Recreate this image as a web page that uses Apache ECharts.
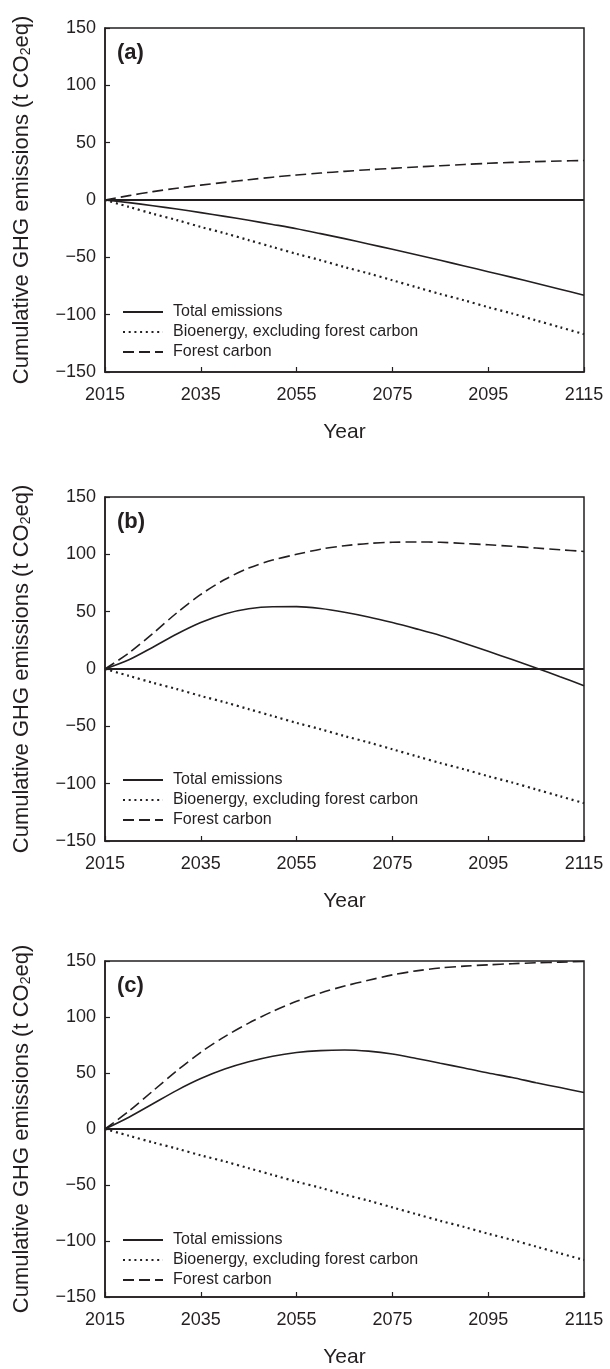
<!DOCTYPE html>
<html>
<head>
<meta charset="utf-8">
<script src="https://cdn.jsdelivr.net/npm/echarts@6/dist/echarts.min.js"></script>
<style>
html,body{margin:0;padding:0;background:#fff;}
#chart{width:610px;height:1369px;}
</style>
</head>
<body>
<div id="chart"></div>
<script>
// ---- data ----
const years = ['2015','2020','2025','2030','2035','2040','2045','2050','2055','2060','2065','2070','2075','2080','2085','2090','2095','2100','2105','2110','2115'];
const yTicks = [-150, -100, -50, 0, 50, 100, 150];
const seriesNames = ['Total emissions', 'Bioenergy, excluding forest carbon', 'Forest carbon'];
const panelLabels = ['(a)', '(b)', '(c)'];

const bioenergy = [0,-6,-12,-17.5,-23.5,-29,-35,-41,-47,-52.5,-58.5,-64,-70,-76,-82,-87.5,-93.5,-99,-105,-111,-117];

const forestA = [0,3.8,7.3,10.3,13,15.4,17.7,19.9,21.8,23.5,25,26.4,27.6,28.8,29.9,31,32,32.8,33.5,34,34.4];
const totalA  = [0,-2.3,-5,-7.9,-11,-14.3,-17.7,-21.3,-25,-29.3,-33.7,-38.3,-43,-47.8,-52.6,-57.5,-62.5,-67.5,-72.6,-77.8,-83];

const forestB = [0,14,31,49,65,78,88,95,100,104.5,107.5,109.5,110.5,110.8,110.5,109.5,108.3,107,105.5,104,102.5];
const totalB  = [0,8,19,30.5,40.5,48,52.5,54.3,54.4,52.7,49.5,45.4,40.5,35,29.2,22.5,15.4,8.2,0.9,-6.8,-14.5];

const forestC = [0,16,34,52,68.5,82.5,94.5,105,114,121.5,127.6,132.8,137.6,141.2,143.8,145.4,146.6,147.6,148.4,149,149.5];
const totalC  = [0,10.5,22.5,34.5,45,53.5,60,65,68.3,70,70.5,69.5,67,63,58.7,54.5,50,46,41.3,37,32.6];

const panels = [
  {total: totalA, bio: bioenergy, forest: forestA},
  {total: totalB, bio: bioenergy, forest: forestB},
  {total: totalC, bio: bioenergy, forest: forestC}
];

// ---- layout ----
const INK = '#231f20';
const FONT = '"Liberation Sans", Arial, Helvetica, sans-serif';
const gridTops = [28, 497, 961];
const gridH = 344;
const legendTops = [304, 772, 1232];

const grids = [], xAxes = [], yAxes = [], series = [], legends = [], graphics = [];

panels.forEach((p, i) => {
  grids.push({left: 105, right: 26, top: gridTops[i], height: gridH,
    show: true, borderColor: INK, borderWidth: 1.5, backgroundColor: 'transparent'});
  xAxes.push({
    type: 'category', gridIndex: i, data: years, boundaryGap: false,
    name: 'Year', nameLocation: 'middle', nameGap: 50,
    nameTextStyle: {fontSize: 21, color: INK, fontFamily: FONT},
    axisLine: {show: true, onZero: false, lineStyle: {color: INK, width: 1.5}},
    axisTick: {show: true, inside: true, length: 5, interval: 3, lineStyle: {color: INK, width: 1.2}},
    axisLabel: {interval: 3, margin: 14, fontSize: 18, color: INK, fontFamily: FONT},
    splitLine: {show: false}
  });
  yAxes.push({
    type: 'value', gridIndex: i, min: yTicks[0], max: yTicks[yTicks.length - 1], interval: 50,
    name: '{a|Cumulative GHG emissions (t CO}{s|2}{a|eq)}',
    nameLocation: 'middle', nameGap: 72, nameRotate: 90,
    nameTextStyle: {color: INK, fontFamily: FONT, fontSize: 22,
      rich: {a: {fontSize: 22, color: INK, fontFamily: FONT},
             s: {fontSize: 14, color: INK, fontFamily: FONT, lineHeight: 6, verticalAlign: 'bottom'}}},
    axisLine: {show: true, lineStyle: {color: INK, width: 1.5}},
    axisTick: {show: true, inside: true, length: 5, lineStyle: {color: INK, width: 1.2}},
    axisLabel: {margin: 9, fontSize: 18, color: INK, fontFamily: FONT,
      formatter: v => String(v).replace('-', '\u2212')},
    splitLine: {show: false}
  });
  series.push({
    name: seriesNames[0], type: 'line', xAxisIndex: i, yAxisIndex: i, data: p.total,
    symbol: 'none', smooth: 0.3, lineStyle: {color: INK, width: 1.6, type: 'solid'},
    itemStyle: {color: INK},
    markLine: {silent: true, symbol: 'none', label: {show: false},
      lineStyle: {color: INK, width: 1.8, type: 'solid'}, data: [{yAxis: 0}]}
  });
  series.push({
    name: seriesNames[1], type: 'line', xAxisIndex: i, yAxisIndex: i, data: p.bio,
    symbol: 'none', smooth: 0.3, lineStyle: {color: INK, width: 2.2, type: [2, 3.7]},
    itemStyle: {color: INK}
  });
  series.push({
    name: seriesNames[2], type: 'line', xAxisIndex: i, yAxisIndex: i, data: p.forest,
    symbol: 'none', smooth: 0.3, lineStyle: {color: INK, width: 1.6, type: [11, 5]},
    itemStyle: {color: INK}
  });
  legends.push({
    orient: 'vertical', left: 122, top: legendTops[i], padding: 0, data: seriesNames,
    itemWidth: 40, itemHeight: 14, itemGap: 4, selectedMode: false,
    itemStyle: {opacity: 0, borderWidth: 0},
    textStyle: {fontSize: 16, color: INK, fontFamily: FONT, lineHeight: 16, padding: [0, 0, 0, 5]}
  });
  graphics.push({
    type: 'text', left: 117, top: gridTops[i] + 14,
    style: {text: panelLabels[i], fontSize: 22, fontWeight: 'bold', fill: INK, fontFamily: FONT}
  });
});

const chart = echarts.init(document.getElementById('chart'), null, {renderer: 'canvas'});
chart.setOption({
  animation: false,
  backgroundColor: '#fff',
  grid: grids, xAxis: xAxes, yAxis: yAxes, series: series, legend: legends, graphic: graphics
});
</script>
</body>
</html>
